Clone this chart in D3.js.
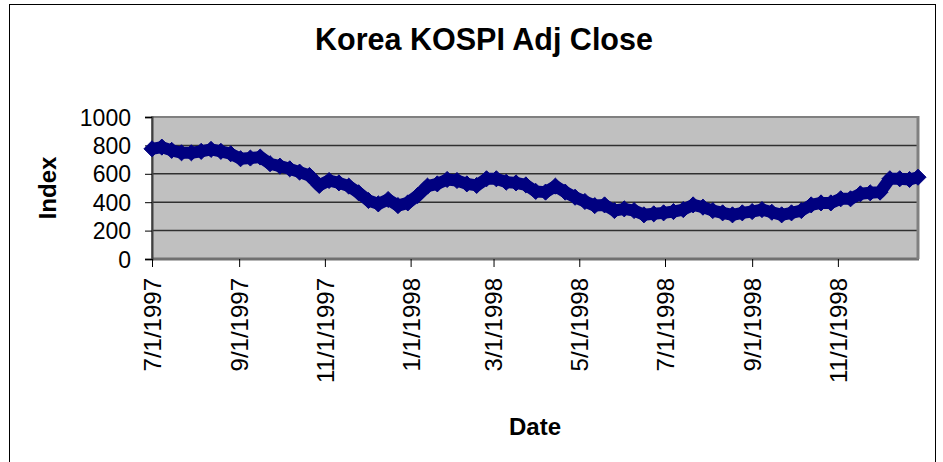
<!DOCTYPE html>
<html><head><meta charset="utf-8">
<script src="https://cdn.jsdelivr.net/npm/d3@7"></script>
<style>body{margin:0;background:#fff} svg{display:block}</style>
</head><body><svg id="c" width="943" height="462"></svg>
<script>
const chartTitle = "Korea KOSPI Adj Close";
const yTitle = "Index";
const xTitle = "Date";
const dates = [
 "1997-07-01","1997-07-08","1997-07-15","1997-07-22","1997-07-29",
 "1997-08-05","1997-08-12","1997-08-19","1997-08-26",
 "1997-09-02","1997-09-09","1997-09-16","1997-09-23","1997-09-30",
 "1997-10-07","1997-10-14","1997-10-21","1997-10-28",
 "1997-11-04","1997-11-11","1997-11-18","1997-11-25",
 "1997-12-02","1997-12-09","1997-12-16","1997-12-23","1997-12-30",
 "1998-01-06","1998-01-13","1998-01-20","1998-01-27",
 "1998-02-03","1998-02-10","1998-02-17","1998-02-24",
 "1998-03-03","1998-03-10","1998-03-17","1998-03-24","1998-03-31",
 "1998-04-07","1998-04-14","1998-04-21","1998-04-28",
 "1998-05-05","1998-05-12","1998-05-19","1998-05-26",
 "1998-06-02","1998-06-09","1998-06-16","1998-06-23","1998-06-30",
 "1998-07-07","1998-07-14","1998-07-21","1998-07-28",
 "1998-08-04","1998-08-11","1998-08-18","1998-08-25",
 "1998-09-01","1998-09-08","1998-09-15","1998-09-22","1998-09-29",
 "1998-10-06","1998-10-13","1998-10-20","1998-10-27",
 "1998-11-03","1998-11-10","1998-11-17","1998-11-24",
 "1998-12-01","1998-12-08","1998-12-15","1998-12-22","1998-12-28"
];
const adjClose = [
 776,788,765,748,748,
 758,772,758,741,
 706,711,718,671,654,
 635,612,588,518,
 553,536,513,466,
 412,388,419,376,395,
 447,513,529,560,
 553,529,518,565,
 565,541,536,522,476,
 471,513,471,435,
 405,376,381,341,
 353,341,311,318,325,
 334,348,381,365,
 341,325,311,325,
 334,348,329,311,325,
 341,381,395,395,
 424,424,459,466,
 471,565,565,560,576
];
const yTicks = [0,200,400,600,800,1000];
const xTickLabels = ["7/1/1997","9/1/1997","11/1/1997","1/1/1998","3/1/1998","5/1/1998","7/1/1998","9/1/1998","11/1/1998"];

const parse = d3.timeParse("%Y-%m-%d");
const parseTick = d3.timeParse("%-m/%-d/%Y");
const fmtTick = d3.timeFormat("%-m/%-d/%Y");
const data = dates.map((d,i)=>({date:parse(d), v:adjClose[i]}));
const tickDates = xTickLabels.map(parseTick);

const svg = d3.select("#c");
const font = "'Liberation Sans', Arial, sans-serif";
const L = 152, R = 918, T = 117, B = 259;

const x = d3.scaleTime().domain([data[0].date, data[data.length-1].date]).range([L, R]);
const y = d3.scaleLinear().domain([0, 1000]).range([B, T]);

// chart area border
svg.append("rect").attr("x",9.5).attr("y",4.5).attr("width",926).attr("height",470)
  .attr("fill","#fff").attr("stroke","#000").attr("stroke-width",1);

// title
svg.append("text").attr("x",484).attr("y",50).attr("text-anchor","middle")
  .attr("font-family",font).attr("font-weight","bold").attr("font-size",30.5)
  .text(chartTitle);

// plot area
svg.append("rect").attr("x",L).attr("y",T).attr("width",R-L).attr("height",B-T)
  .attr("fill","#c0c0c0");

// gridlines
svg.append("g").selectAll("line").data(yTicks.filter(t=>t>0 && t<1000)).join("line")
  .attr("x1",L).attr("x2",R).attr("y1",d=>y(d)).attr("y2",d=>y(d))
  .attr("stroke","#303030").attr("stroke-width",1.5);

// plot border
svg.append("rect").attr("x",L).attr("y",T).attr("width",R-L).attr("height",B-T)
  .attr("fill","none").attr("stroke","#808080").attr("stroke-width",2);
svg.append("line").attr("x1",L).attr("x2",R+1).attr("y1",B).attr("y2",B)
  .attr("stroke","#707070").attr("stroke-width",3);
svg.append("line").attr("x1",R).attr("x2",R).attr("y1",T-1).attr("y2",B)
  .attr("stroke","#808080").attr("stroke-width",3);

// y axis
const yAxis = d3.axisLeft(y).tickValues(yTicks).tickSize(7).tickPadding(14).tickFormat(d3.format("d"));
const gy = svg.append("g").attr("transform",`translate(${L},0)`).call(yAxis);
gy.select(".domain").attr("stroke","#404040").attr("stroke-width",2);
gy.selectAll(".tick line").attr("stroke","#000");
gy.selectAll(".tick text").attr("font-family",font).attr("font-size",23).attr("fill","#000").attr("dy","0.35em");

// x axis
const xAxis = d3.axisBottom(x).tickValues(tickDates).tickSize(8).tickFormat(fmtTick);
const gx = svg.append("g").attr("transform",`translate(0,${B})`).call(xAxis);
gx.select(".domain").remove();
gx.selectAll(".tick line").attr("stroke","#000");
gx.selectAll(".tick text").attr("font-family",font).attr("font-size",24).attr("fill","#000")
  .attr("text-anchor","end").attr("transform","rotate(-90)")
  .attr("x",-19).attr("y",0).attr("dy","0.35em");

// axis titles
svg.append("text").attr("transform","translate(56,188) rotate(-90)").attr("text-anchor","middle")
  .attr("font-family",font).attr("font-weight","bold").attr("font-size",24).text(yTitle);
svg.append("text").attr("x",535).attr("y",435).attr("text-anchor","middle")
  .attr("font-family",font).attr("font-weight","bold").attr("font-size",24).text(xTitle);

// series line + diamond markers
const line = d3.line().x(d=>x(d.date)).y(d=>y(d.v));
svg.append("path").datum(data).attr("d",line).attr("fill","none")
  .attr("stroke","#000080").attr("stroke-width",12).attr("stroke-linejoin","round");
const sym = d3.symbol().type(d3.symbolDiamond2).size(165);
svg.append("g").selectAll("path").data(data).join("path")
  .attr("transform",d=>`translate(${x(d.date)},${y(d.v)})`)
  .attr("d",sym).attr("fill","#000080").attr("stroke","#000080").attr("stroke-width",1);
</script></body></html>
